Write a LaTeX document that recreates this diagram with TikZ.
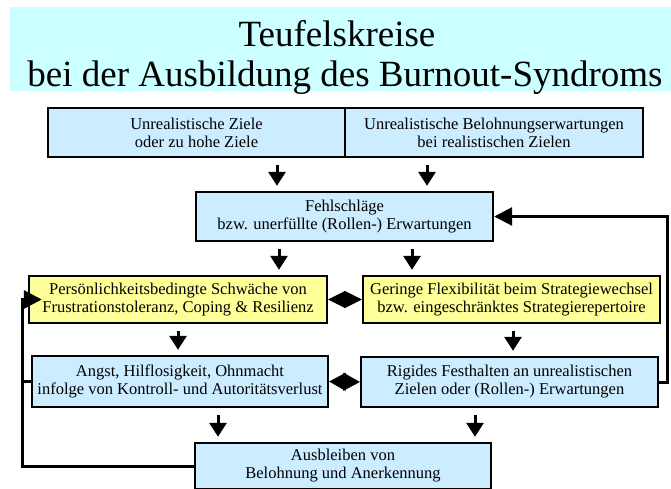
\documentclass[tikz,border=0pt]{standalone}
\usepackage{fontspec}
\setmainfont{Liberation Serif}
\usetikzlibrary{arrows.meta}
\definecolor{bandcyan}{HTML}{CCFFFF}
\definecolor{boxblue}{HTML}{CCECFF}
\definecolor{boxyellow}{HTML}{FFFF99}
\begin{document}
\begin{tikzpicture}[x=1pt,y=-1pt,
  basebox/.style={draw=black, line width=2.4pt, inner sep=0pt, align=center,
    font=\fontsize{16.5}{18}\selectfont},
  bbox/.style={basebox, fill=boxblue},
  ybox/.style={basebox, fill=boxyellow},
  titletext/.style={anchor=base, font=\fontsize{37}{40}\selectfont},
  darr/.style={line width=3pt, -{Triangle[width=17pt,length=14pt]}, shorten <=7pt, shorten >=5pt},
  dia/.style={line width=0.4pt, {Triangle[width=17pt,length=17pt]}-{Triangle[width=17pt,length=17pt]}},
  dialow/.style={line width=0.4pt, {Triangle[width=18pt,length=16.5pt]}-{Triangle[width=18pt,length=16.5pt]}},
  fb/.style={line width=3pt, line join=miter, -{Triangle[width=18pt,length=18pt]}},
  fbplain/.style={line width=3pt}
]
\useasboundingbox (0,0) rectangle (671,489);
\fill[bandcyan] (10,7) rectangle (671,91);
\node[titletext] (t1) at (337,47) {Teufelskreise};
\node[titletext] (t2) at (345,87) {bei der Ausbildung des Burnout-Syndroms};

\node[bbox, minimum width=297pt, minimum height=49pt] (u1) at (196.5,132.5) {Unrealistische Ziele\\oder zu hohe Ziele};
\node[bbox, minimum width=298pt, minimum height=49pt] (u2) at (494,132.5) {Unrealistische Belohnungserwartungen\\bei realistischen Zielen};
\node[bbox, minimum width=297pt, minimum height=49pt] (f) at (344.5,216.5) {Fehlschläge\\bzw. unerfüllte (Rollen-) Erwartungen};
\node[ybox, minimum width=298pt, minimum height=47pt] (y1) at (178,299.5) {Persönlichkeitsbedingte Schwäche von\\Frustrationstoleranz, Coping \& Resilienz};
\node[ybox, minimum width=297pt, minimum height=47pt] (y2) at (511.5,299.5) {Geringe Flexibilität beim Strategiewechsel\\bzw. eingeschränktes Strategierepertoire};
\node[bbox, minimum width=296pt, minimum height=51pt] (a) at (180,381.5) {Angst, Hilflosigkeit, Ohnmacht\\infolge von Kontroll- und Autoritätsverlust};
\node[bbox, minimum width=297pt, minimum height=50pt] (r) at (509.5,382) {Rigides Festhalten an unrealistischen\\Zielen oder (Rollen-) Erwartungen};
\node[bbox, minimum width=296pt, minimum height=46pt] (b) at (343,466) {Ausbleiben von\\Belohnung und Anerkennung};

\draw[darr] ([xshift=80.5pt]u1.south) -- ([xshift=-67.5pt]f.north);
\draw[darr] ([xshift=-67pt]u2.south) -- ([xshift=82.5pt]f.north);
\draw[darr] ([xshift=-65.5pt]f.south) -- ([xshift=101pt]y1.north);
\draw[darr] ([xshift=67.5pt]f.south) -- ([xshift=-99.5pt]y2.north);
\draw[darr] (y1.south) -- ([xshift=-2pt]a.north);
\draw[darr] ([xshift=1.5pt]y2.south) -- ([xshift=3.5pt]r.north);
\draw[darr] ([xshift=38pt]a.south) -- ([xshift=-125pt]b.north);
\draw[darr] ([xshift=-34.5pt]r.south) -- ([xshift=132pt]b.north);

\draw[dia] (y1.east) -- (y2.west);
\draw[dialow] (a.east) -- (r.west);

\coordinate (rx) at (667,0);
\coordinate (lx) at (22,0);
\draw[fb] (r.east) -- (r.east -| rx) -- (f.east -| rx) -- (f.east);
\draw[fb] (b.west) -- (b.west -| lx) -- (y1.west -| lx) -- ([xshift=14pt]y1.west);
\draw[fbplain] (a.west) -- (a.west -| lx);
\end{tikzpicture}
\end{document}
